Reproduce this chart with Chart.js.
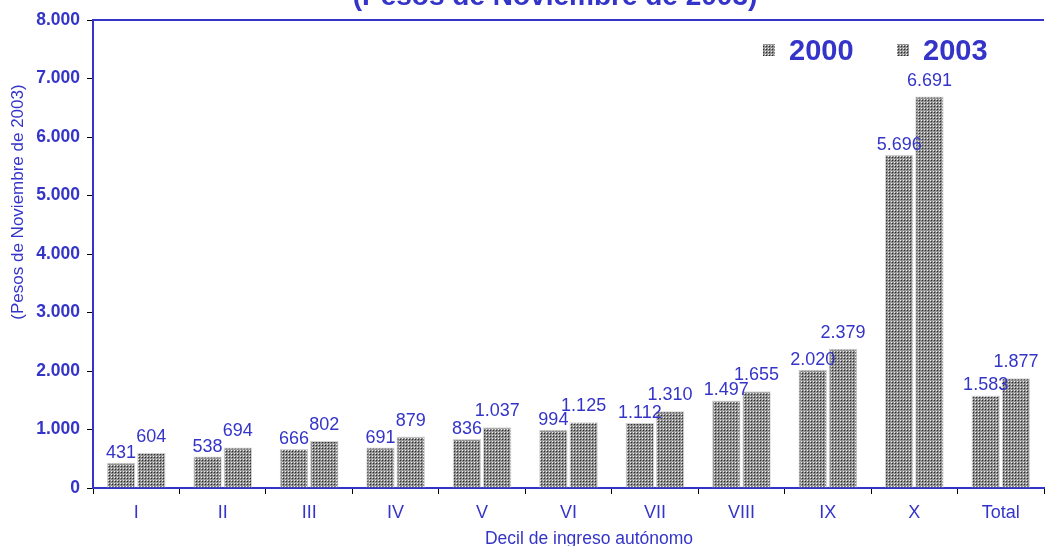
<!DOCTYPE html>
<html>
<head>
<meta charset="utf-8">
<script src="https://cdn.jsdelivr.net/npm/chart.js@4.4.1/dist/chart.umd.min.js"></script>
<style>
    html, body { margin: 0; padding: 0; background: #fff; }
    #wrap { width: 1046px; height: 546px; }
</style>
</head>
<body>
<div id="wrap"><canvas id="chart" width="1046" height="546"></canvas></div>
<script>
const categories = ['I', 'II', 'III', 'IV', 'V', 'VI', 'VII', 'VIII', 'IX', 'X', 'Total'];
const values2000 = [431, 538, 666, 691, 836, 994, 1112, 1497, 2020, 5696, 1583];
const values2003 = [604, 694, 802, 879, 1037, 1125, 1310, 1655, 2379, 6691, 1877];
const seriesNames = ['2000', '2003'];
const yTicks = [0, 1000, 2000, 3000, 4000, 5000, 6000, 7000, 8000];

const blue = '#3434c8';
const fontFamily = "'Liberation Sans', Arial, sans-serif";

function fmt(v) {
    return String(v).replace(/\B(?=(\d{3})+(?!\d))/g, '.');
}

// small dotted grey tile, like the old spreadsheet fill
function makePattern(ctx) {
    const c = document.createElement('canvas');
    c.width = 3;
    c.height = 3;
    const p = c.getContext('2d');
    p.fillStyle = '#8a8a8a';
    p.fillRect(0, 0, 3, 3);
    p.fillStyle = '#f2f2f2';
    p.fillRect(0, 0, 1, 1);
    p.fillStyle = '#2c2c2c';
    p.fillRect(1, 1, 1, 1);
    p.fillStyle = '#a8a8a8';
    p.fillRect(2, 2, 1, 1);
    return ctx.createPattern(c, 'repeat');
}

const canvas = document.getElementById('chart');
const pattern = makePattern(canvas.getContext('2d'));

// extra lift of the value labels per series
const labelLift = [5, 11];

const decorPlugin = {
    id: 'decor',
    beforeDatasetsDraw(chart) {
        const { ctx, chartArea } = chart;
        ctx.save();
        ctx.strokeStyle = blue;
        ctx.lineWidth = 2;
        ctx.beginPath();
        ctx.moveTo(chartArea.left, chartArea.top);
        ctx.lineTo(chartArea.right, chartArea.top);
        ctx.stroke();
        ctx.restore();
    },
    afterDatasetsDraw(chart) {
        const { ctx } = chart;
        ctx.save();
        ctx.fillStyle = blue;
        ctx.font = `18px ${fontFamily}`;
        ctx.textAlign = 'center';
        ctx.textBaseline = 'alphabetic';
        chart.data.datasets.forEach((ds, di) => {
            chart.getDatasetMeta(di).data.forEach((bar, i) => {
                ctx.fillText(fmt(ds.data[i]), bar.x, bar.y - labelLift[di]);
            });
        });
        ctx.restore();
    },
    afterDraw(chart) {
        const { ctx } = chart;
        ctx.save();
        ctx.fillStyle = blue;

        // title, mostly cut off at the top edge
        ctx.font = `bold 28px ${fontFamily}`;
        ctx.textAlign = 'center';
        ctx.textBaseline = 'alphabetic';
        ctx.fillText('(Pesos de Noviembre de 2003)', 555, 5);

        // axis titles
        ctx.font = `17.5px ${fontFamily}`;
        ctx.textBaseline = 'middle';
        ctx.fillText('Decil de ingreso autónomo', 589, 539);
        ctx.save();
        ctx.translate(18, 202);
        ctx.rotate(-Math.PI / 2);
        ctx.font = `17px ${fontFamily}`;
        ctx.fillText('(Pesos de Noviembre de 2003)', 0, 0);
        ctx.restore();

        // legend
        const legendX = [763, 897];
        ctx.font = `bold 29px ${fontFamily}`;
        ctx.textAlign = 'left';
        ctx.textBaseline = 'alphabetic';
        seriesNames.forEach((name, i) => {
            ctx.fillStyle = pattern;
            ctx.fillRect(legendX[i], 44, 12, 12);
            ctx.fillStyle = blue;
            ctx.fillText(name, legendX[i] + 26, 60);
        });
        ctx.restore();
    },
};

new Chart(canvas, {
    type: 'bar',
    data: {
        labels: categories,
        datasets: [
            {
                label: seriesNames[0],
                data: values2000,
                backgroundColor: pattern,
                borderColor: '#d4d4d4',
                borderWidth: 1,
                categoryPercentage: 0.7,
                barPercentage: 0.94,
            },
            {
                label: seriesNames[1],
                data: values2003,
                backgroundColor: pattern,
                borderColor: '#d4d4d4',
                borderWidth: 1,
                categoryPercentage: 0.7,
                barPercentage: 0.94,
            },
        ],
    },
    options: {
        responsive: false,
        animation: false,
        layout: { padding: { top: 20, right: 2, left: 0, bottom: 0 } },
        plugins: {
            legend: { display: false },
            title: { display: false },
            tooltip: { enabled: false },
        },
        scales: {
            x: {
                grid: {
                    display: true,
                    drawOnChartArea: false,
                    drawTicks: true,
                    tickLength: 6,
                    color: '#000',
                    lineWidth: 1,
                },
                border: { display: true, color: blue, width: 2 },
                ticks: {
                    color: blue,
                    font: { family: fontFamily, size: 18 },
                    padding: 8,
                    maxRotation: 0,
                    autoSkip: false,
                },
                afterFit: (s) => { s.height = 58; },
            },
            y: {
                min: 0,
                max: 8000,
                afterBuildTicks: (s) => { s.ticks = yTicks.map((v) => ({ value: v })); },
                grid: {
                    display: true,
                    drawOnChartArea: false,
                    drawTicks: true,
                    tickLength: 6,
                    color: '#000',
                    lineWidth: 1,
                },
                border: { display: true, color: blue, width: 2 },
                ticks: {
                    color: blue,
                    font: { family: fontFamily, size: 17.5, weight: 'bold' },
                    padding: 7,
                    callback: (v) => fmt(v),
                },
                afterFit: (s) => { s.width = 93; },
            },
        },
    },
    plugins: [decorPlugin],
});
</script>
</body>
</html>
